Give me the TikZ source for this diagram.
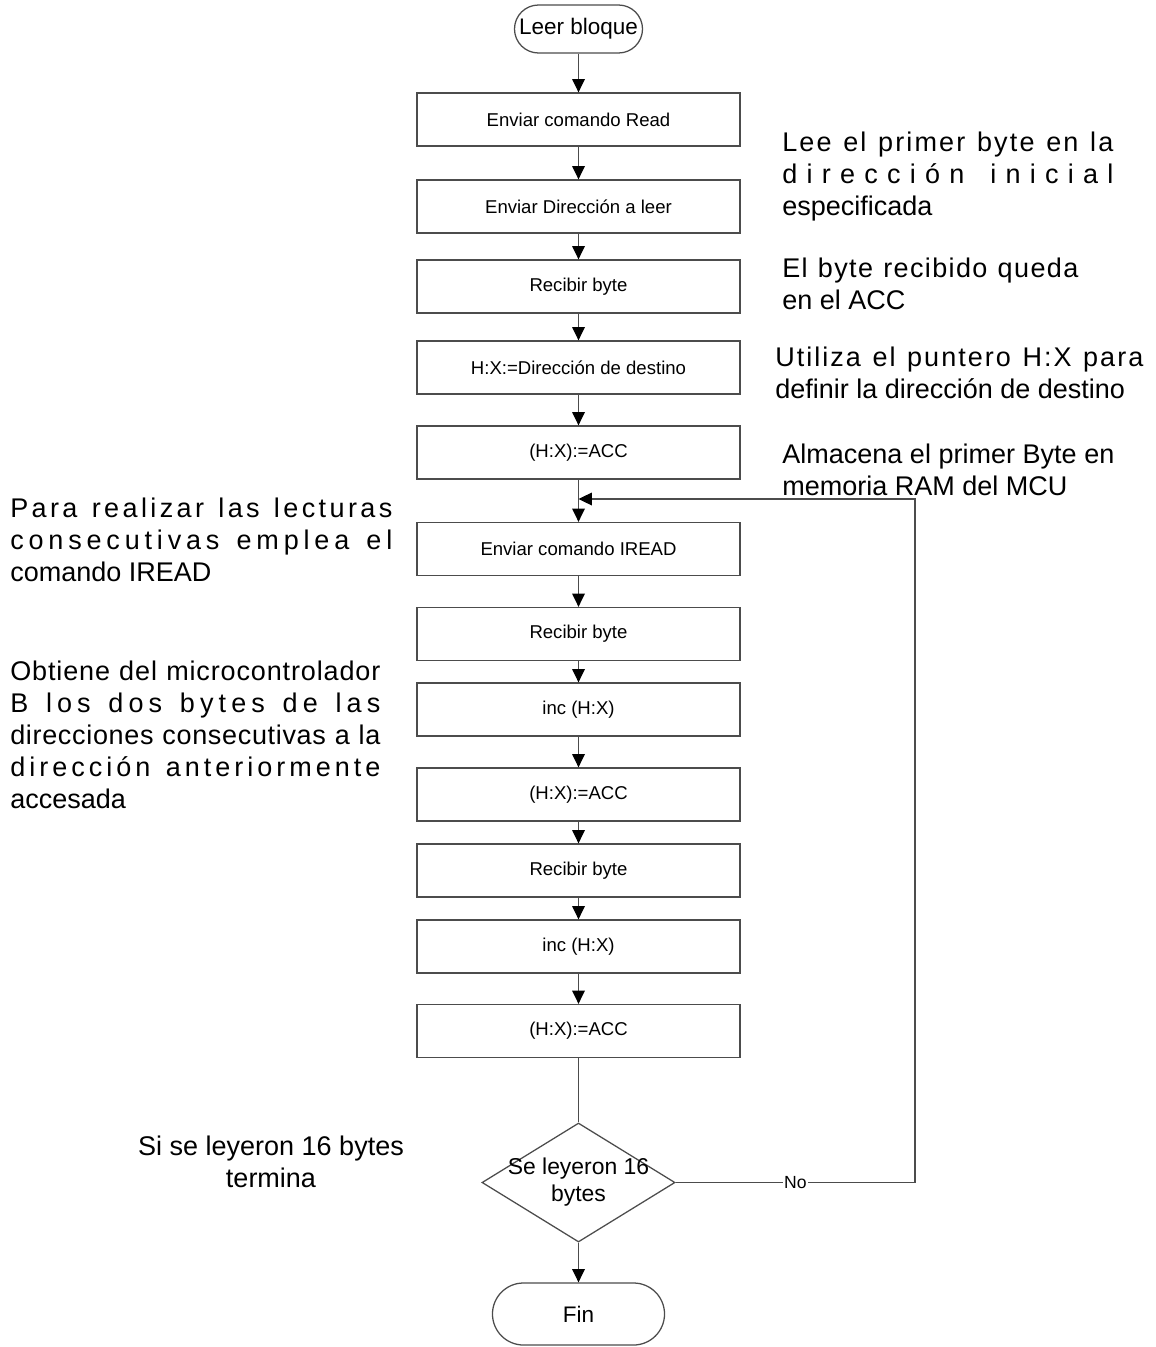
\documentclass[tikz,border=0pt]{standalone}
\usepackage{fontspec}
\setmainfont{Liberation Sans}
\usetikzlibrary{shapes.geometric,arrows.meta}
%% Spread a line over a given width, letter by letter.
\ExplSyntaxOn
\NewDocumentCommand{\spreadline}{mm}{\makebox[#1][s]{\str_map_inline:nn{#2}{##1\hfil}\unskip}}
\ExplSyntaxOff

\begin{document}
\begin{tikzpicture}[%%
  x=0.025cm,y=-0.025cm,%%
  lineStyle/.style={-,draw=black!70,line width=0.9pt},%%
  arrowStyle/.style={lineStyle,-{Triangle[length=9.5pt,width=9pt,color=black]}},%%
  stepBox/.style={rectangle,draw=black!70,line width=0.9pt,minimum width=8.075cm,%%
    minimum height=1.325cm,inner sep=0pt,font=\fontsize{13.2}{15}\selectfont},%%
  termBox/.style={rectangle,draw=black!70,line width=0.9pt,inner sep=0pt,%%
    font=\fontsize{16}{19}\selectfont},%%
  decisionBox/.style={diamond,draw=black!70,line width=0.9pt,minimum width=4.825cm,%%
    minimum height=2.975cm,inner sep=0pt},%%
  noteStyle/.style={anchor=north west,inner sep=0pt,align=left,%%
    font=\fontsize{19.2}{22.8}\selectfont},%%
  labelStyle/.style={fill=white,inner sep=1pt,font=\fontsize{12.5}{14}\selectfont}%%
]
%%
%%
\pgfmathsetmacro{\xmid}{578.5}
\pgfmathsetmacro{\xloop}{915}
\pgfmathsetmacro{\ymerge}{499}
%%
\useasboundingbox (0,0) rectangle (1156,1347);
%%
%% Start of the block read.
\node[termBox,minimum width=3.2cm,minimum height=1.2cm,rounded corners=0.6cm]
  (start) at (\xmid,29) {Leer bloque};
%% First byte.
\node[stepBox] (readCmd)    at (\xmid,119.5) {Enviar comando Read};
\node[stepBox] (sendAddr)   at (\xmid,206.5) {Enviar Dirección a leer};
\node[stepBox] (getFirst)   at (\xmid,286.5) {Recibir byte};
\node[stepBox] (setPtr)     at (\xmid,367.5) {H:X:=Dirección de destino};
\node[stepBox] (storeFirst) at (\xmid,452.5) {(H:X):=ACC};
%% Loop over the following bytes.
\node[stepBox] (ireadCmd)   at (\xmid,549)   {Enviar comando IREAD};
\node[stepBox] (getSecond)  at (\xmid,634)   {Recibir byte};
\node[stepBox] (incFirst)   at (\xmid,709.5) {inc (H:X)};
\node[stepBox] (storeSecond) at (\xmid,794.5) {(H:X):=ACC};
\node[stepBox] (getThird)   at (\xmid,870.5) {Recibir byte};
\node[stepBox] (incSecond)  at (\xmid,946.5) {inc (H:X)};
\node[stepBox] (storeLast)  at (\xmid,1031)  {(H:X):=ACC};
%% Test and end.
\node[decisionBox] (check) at (\xmid,1182.5) {};
\node[font=\fontsize{16.3}{19.2}\selectfont,align=center,inner sep=0pt]
  (checkText) at (check) {Se leyeron 16\\bytes};
\node[termBox,minimum width=4.3cm,minimum height=1.55cm,rounded corners=0.775cm]
  (finEnd) at (\xmid,1314) {Fin};
%%
\coordinate (merge) at (\xmid,\ymerge);
\coordinate (loopTop) at (\xloop,\ymerge);
%%
%% Connectors.
\draw[arrowStyle] (start) -- (readCmd);
\draw[arrowStyle] (readCmd) -- (sendAddr);
\draw[arrowStyle] (sendAddr) -- (getFirst);
\draw[arrowStyle] (getFirst) -- (setPtr);
\draw[arrowStyle] (setPtr) -- (storeFirst);
\draw[lineStyle] (storeFirst) -- (merge);
\draw[arrowStyle] (merge) -- (ireadCmd);
\draw[arrowStyle] (ireadCmd) -- (getSecond);
\draw[arrowStyle] (getSecond) -- (incFirst);
\draw[arrowStyle] (incFirst) -- (storeSecond);
\draw[arrowStyle] (storeSecond) -- (getThird);
\draw[arrowStyle] (getThird) -- (incSecond);
\draw[arrowStyle] (incSecond) -- (storeLast);
\draw[lineStyle] (storeLast) -- (check);
\draw[arrowStyle] (check) -- (finEnd);
%% Back to the IREAD command.
\draw[arrowStyle] (check.east) -- node[labelStyle] {No} (check.east -| loopTop)
  -- (loopTop) -- (merge);
%%
%% Notes on the right.
\node[noteStyle] (noteRead) at (782,131.5)
  {\spreadline{8.275cm}{Lee el primer byte en la}\\
   \spreadline{8.275cm}{dirección inicial}\\
   especificada};
\node[noteStyle] (noteByte) at (782,257.5)
  {\spreadline{7.4cm}{El byte recibido queda}\\
   en el ACC};
\node[noteStyle] (notePtr) at (775,346.5)
  {\spreadline{9.2cm}{Utiliza el puntero H:X para}\\
   definir la dirección de destino};
\node[noteStyle] (noteStore) at (782,443.5)
  {\spreadline{8.3cm}{Almacena el primer Byte en}\\
   memoria RAM del MCU};
%% Notes on the left.
\node[noteStyle] (noteIread) at (10,497.5)
  {\spreadline{9.55cm}{Para realizar las lecturas}\\
   \spreadline{9.55cm}{consecutivas emplea el}\\
   comando IREAD};
\node[noteStyle] (noteMcu) at (10,660.5)
  {\spreadline{9.25cm}{Obtiene del microcontrolador}\\
   \spreadline{9.25cm}{B los dos bytes de las}\\
   \spreadline{9.25cm}{direcciones consecutivas a la}\\
   \spreadline{9.25cm}{dirección anteriormente}\\
   accesada};
\node[noteStyle,anchor=north,align=center] (noteEnd) at (271,1135.5)
  {Si se leyeron 16 bytes\\termina};
\end{tikzpicture}
\end{document}
